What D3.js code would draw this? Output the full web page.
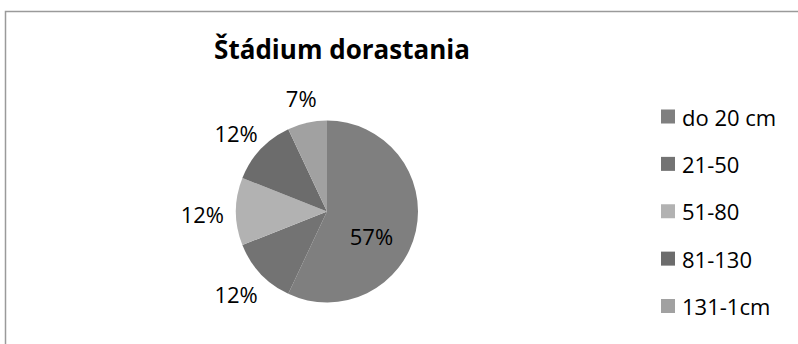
<!DOCTYPE html>
<html>
<head>
<meta charset="utf-8">
<script src="https://cdn.jsdelivr.net/npm/d3@7"></script>
<style>
  html, body { margin: 0; padding: 0; background: #fff; }
  svg { display: block; }
  text { font-family: "Open Sans", "Noto Sans", sans-serif; fill: #000; }
</style>
</head>
<body>
<svg id="chart" width="798" height="344"></svg>
<script>
// Growth stage shares (percent)
const categories = ["do 20 cm", "21-50", "51-80", "81-130", "131-1cm"];
const shares = [57, 12, 12, 12, 7];
const sliceColors = ["#7f7f7f", "#737373", "#b2b2b2", "#6c6c6c", "#a1a1a1"];
const title = "Štádium dorastania";

const W = 798, H = 344;
const cx = 327, cy = 211.5, R = 91;

const svg = d3.select("#chart");

// chart area frame
svg.append("rect")
  .attr("x", 5.5).attr("y", 11.5)
  .attr("width", W).attr("height", H)
  .attr("fill", "#fff")
  .attr("stroke", "#9a9a9a")
  .attr("stroke-width", 1.5);

svg.append("text")
  .attr("x", 342).attr("y", 59)
  .attr("text-anchor", "middle")
  .attr("font-size", 26)
  .attr("font-weight", 700)
  .text(title);

const color = d3.scaleOrdinal().domain(categories).range(sliceColors);

const pie = d3.pie().sort(null).value(d => d.value);
const arcs = pie(categories.map((c, i) => ({ cat: c, value: shares[i] })));
const arc = d3.arc().innerRadius(0).outerRadius(R);

const g = svg.append("g").attr("transform", `translate(${cx},${cy})`);

g.selectAll("path.slice")
  .data(arcs)
  .join("path")
  .attr("class", "slice")
  .attr("d", arc)
  .attr("fill", d => color(d.data.cat));

// percentage labels: the large slice gets its label inside, the rest sit outside
const labels = g.selectAll("text.pct")
  .data(arcs)
  .join("text")
  .attr("class", "pct")
  .attr("font-size", 22)
  .attr("text-anchor", "middle")
  .attr("dominant-baseline", "central")
  .text(d => d.data.value + "%");

labels.each(function (d) {
  const t = d3.select(this);
  const mid = (d.startAngle + d.endAngle) / 2;
  const dx = Math.sin(mid), dy = -Math.cos(mid);
  if (d.endAngle - d.startAngle > Math.PI / 2) {
    const c = arc.centroid(d);
    t.attr("x", c[0]).attr("y", c[1] + 15);
  } else {
    const bb = this.getBBox();
    const pad = 12;
    t.attr("x", dx * (R + pad) + dx * bb.width / 2)
     .attr("y", dy * (R + pad) + dy * bb.height / 2 + 2);
  }
});

// legend
const legendY = d3.scalePoint().domain(categories).range([116.5, 306]);
const legend = svg.append("g");
const items = legend.selectAll("g")
  .data(categories)
  .join("g")
  .attr("transform", d => `translate(661,${legendY(d)})`);

items.append("rect")
  .attr("x", 0).attr("y", -7)
  .attr("width", 14).attr("height", 14)
  .attr("fill", d => color(d));

items.append("text")
  .attr("x", 21).attr("y", 0)
  .attr("dominant-baseline", "central")
  .attr("font-size", 22)
  .text(d => d);
</script>
</body>
</html>
